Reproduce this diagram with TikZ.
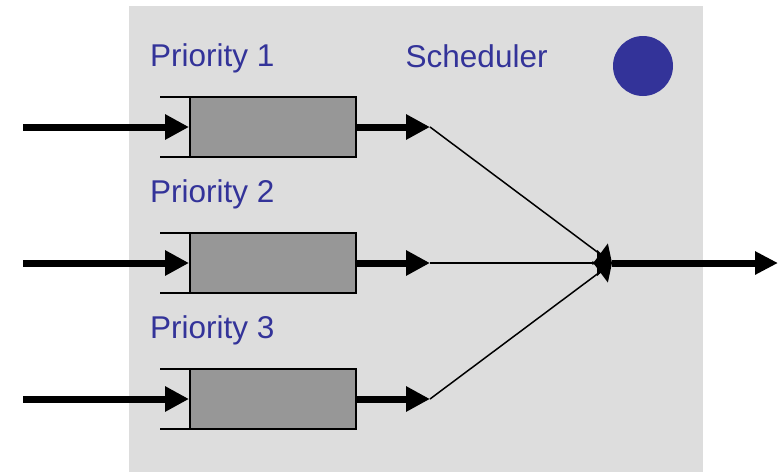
\documentclass[tikz,border=0pt]{standalone}
\usepackage{fontspec}
\setmainfont{Liberation Sans}
\usetikzlibrary{arrows.meta}
\definecolor{bg}{HTML}{DDDDDD}
\definecolor{qfill}{HTML}{979797}
\definecolor{txt}{HTML}{333399}
\tikzset{
  queue/.style={draw=black, line width=2pt, fill=qfill, minimum width=166pt, minimum height=60pt, inner sep=0pt},
  thick arrow/.style={line width=7pt, -{Triangle[length=24pt,width=24pt]}},
  thin arrow/.style={line width=1.5pt, -{Triangle[length=15pt,width=26pt]}},
  label/.style={anchor=base west, inner sep=0pt, text=txt, font=\fontsize{31.5pt}{37pt}\selectfont},
  rim/.style={line width=2pt}
}
\begin{document}
\begin{tikzpicture}[x=1pt,y=-1pt]
\useasboundingbox (0,0) rectangle (779,472);
\fill[bg] (129,6) rectangle (703,472);
\node[label] (l1) at (150,66.5) {Priority 1};
\node[label] (l2) at (150,202.5) {Priority 2};
\node[label] (l3) at (150,338.5) {Priority 3};
\node[label] (ls) at (405.5,67.5) {Scheduler};
\node[circle, fill=txt, minimum size=60pt, inner sep=0pt] (dot) at (643,66) {};
\foreach \i/\y in {1/127,2/263,3/399}{
  \draw[rim] (160,\y-30) -- (190,\y-30);
  \draw[rim] (160,\y+30) -- (190,\y+30);
  \node[queue] (q\i) at (273,\y) {};
  \coordinate (in\i) at (23,\y);
  \coordinate (o\i) at (430,\y);
  \draw[thick arrow] (in\i) -- (q\i.west);
  \draw[thick arrow] (q\i.east) -- (o\i);
}
\coordinate (m) at (612,263);
\coordinate (e) at (778,263);
\draw[thin arrow] (o1) -- (m);
\draw[thin arrow] (o2) -- (m);
\draw[thin arrow] (o3) -- (m);
\draw[line width=7pt, -{Triangle[length=23pt,width=22pt]}] (m) -- (e);
\end{tikzpicture}
\end{document}
